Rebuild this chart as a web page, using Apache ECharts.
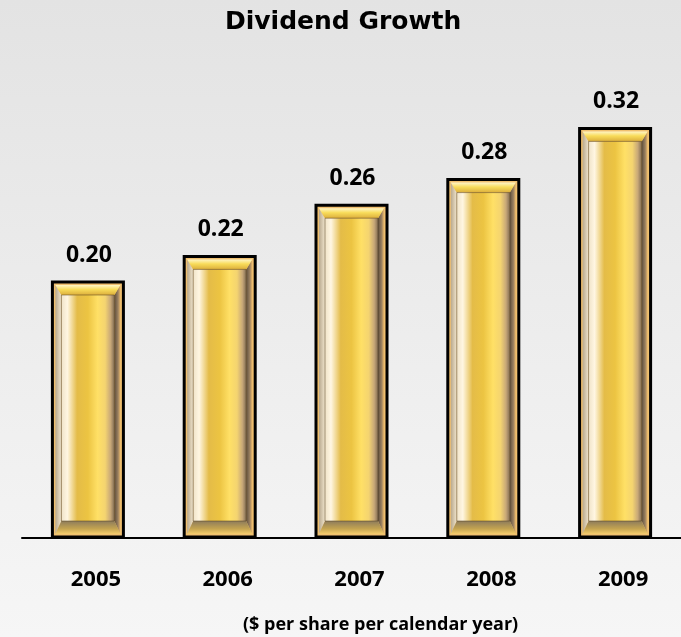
<!DOCTYPE html>
<html>
<head>
<meta charset="utf-8">
<script src="https://cdn.jsdelivr.net/npm/echarts@6/dist/echarts.min.js"></script>
<style>
  html, body { margin: 0; padding: 0; }
  #chart { width: 681px; height: 637px; }
</style>
</head>
<body>
<div id="chart"></div>
<script>
// 数据
const years = ['2005', '2006', '2007', '2008', '2009'];
const dividends = [0.20, 0.22, 0.26, 0.28, 0.32];
const footnote = '($ per share per calendar year)';

const LG = echarts.graphic.LinearGradient;

// 柱子正面的金色渐变（左右方向）
const faceColor = () => new LG(0, 0, 1, 0, [
  { offset: 0, color: '#efe2c6' },
  { offset: 0.12, color: '#fff6e2' },
  { offset: 0.3, color: '#e4bc48' },
  { offset: 0.5, color: '#ecc442' },
  { offset: 0.68, color: '#ffe066' },
  { offset: 0.82, color: '#f4d470' },
  { offset: 0.92, color: '#c8a878' },
  { offset: 1, color: '#7a6650' }
]);

// 画一根带斜面的金柱
function renderBar(params, api) {
  const value = api.value(1);
  const top = api.coord([api.value(0), value]);
  const base = api.coord([api.value(0), 0]);
  const w = 71;
  const x0 = top[0] - w / 2, x1 = top[0] + w / 2;
  const y0 = top[1], yb = base[1] - 1;
  const b = 9, bt = 13, bb = 16;
  const ix0 = x0 + b, ix1 = x1 - b, iy0 = y0 + bt, iyb = yb - bb;
  return {
    type: 'group',
    children: [
      { type: 'rect', shape: { x: x0, y: y0, width: w, height: yb - y0 },
        style: { fill: '#f0c070', stroke: '#000', lineWidth: 3 } },
      // 左斜面
      { type: 'polygon', shape: { points: [[x0 + 3, y0 + 3], [ix0, iy0], [ix0, iyb], [x0 + 3, yb - 3]] },
        style: { fill: new LG(0, 0, 1, 0, [{ offset: 0, color: '#b8a98e' }, { offset: 1, color: '#f0e4cc' }]) } },
      // 右斜面
      { type: 'polygon', shape: { points: [[x1 - 3, y0 + 3], [ix1, iy0], [ix1, iyb], [x1 - 3, yb - 3]] },
        style: { fill: new LG(0, 0, 1, 0, [{ offset: 0, color: '#5e4e3c' }, { offset: 0.6, color: '#9a8060' }, { offset: 1, color: '#eab86a' }]) } },
      // 上斜面
      { type: 'polygon', shape: { points: [[x0 + 3, y0 + 3], [x1 - 3, y0 + 3], [ix1, iy0], [ix0, iy0]] },
        style: { fill: new LG(0, 0, 0, 1, [{ offset: 0, color: '#fff6c8' }, { offset: 0.45, color: '#f8dc5a' }, { offset: 1, color: '#dcae3c' }]) } },
      // 下斜面
      { type: 'polygon', shape: { points: [[x0 + 3, yb - 3], [x1 - 3, yb - 3], [ix1, iyb], [ix0, iyb]] },
        style: { fill: new LG(0, 0, 0, 1, [{ offset: 0, color: '#8e7c5c' }, { offset: 0.6, color: '#c4a450' }, { offset: 1, color: '#f4cc6c' }]) } },
      // 正面
      { type: 'rect', shape: { x: ix0, y: iy0, width: ix1 - ix0, height: iyb - iy0 },
        style: { fill: faceColor(), stroke: 'rgba(80,60,30,0.5)', lineWidth: 1 } },
      // 数值标签
      { type: 'text', style: {
          text: value.toFixed(2), x: top[0] + 1, y: y0 - 27,
          align: 'center', verticalAlign: 'middle',
          font: 'bold 23px "Open Sans"', fill: '#000' } }
    ]
  };
}

const option = {
  backgroundColor: new LG(0, 0, 0, 1, [
    { offset: 0, color: '#e3e3e3' },
    { offset: 1, color: '#f6f6f6' }
  ]),
  title: [
    {
      text: 'Dividend Growth',
      left: 225,
      top: 10,
      padding: 0,
      textStyle: { fontFamily: 'DejaVu Sans', fontWeight: 'bold', fontSize: 25, color: '#000' }
    },
    {
      text: footnote,
      left: 243,
      top: 616,
      padding: 0,
      textStyle: { fontFamily: 'Open Sans', fontWeight: 'bold', fontSize: 18, color: '#000' }
    }
  ],
  grid: { left: 22, width: 662, top: 90, bottom: 99 },
  xAxis: {
    type: 'category',
    data: years,
    axisLine: { lineStyle: { color: '#000', width: 2 } },
    axisTick: { show: false },
    axisLabel: {
      margin: 31,
      padding: [0, 0, 0, 16],
      fontFamily: 'Open Sans',
      fontWeight: 'bold',
      fontSize: 22,
      color: '#000'
    }
  },
  yAxis: {
    type: 'value',
    min: 0,
    max: 0.35,
    show: false
  },
  series: [
    {
      type: 'custom',
      renderItem: renderBar,
      data: dividends.map((v, i) => [i, v]),
      encode: { x: 0, y: 1 },
      z: 3
    }
  ]
};

const chart = echarts.init(document.getElementById('chart'));
chart.setOption(option);
</script>
</body>
</html>
